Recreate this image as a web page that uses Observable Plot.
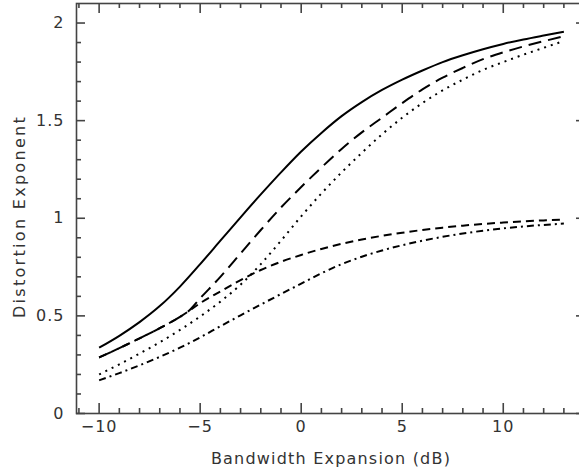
<!DOCTYPE html>
<html><head><meta charset="utf-8">
<script src="https://cdn.jsdelivr.net/npm/d3@7"></script>
<script src="https://cdn.jsdelivr.net/npm/@observablehq/plot@0.6"></script>
<style>body{margin:0;background:#fff;overflow:hidden}</style>
</head><body><div id="chart"></div>
<script>
// x positions (dB)
const xs = [-10,-9,-8,-7,-6,-5,-4,-3,-2,-1,0,1,2,3,4,5,6,7,8,9,10,11,12,13];
const xsBD = [-10,-9,-8,-7,-6,-5.6,-5,-4,-3,-2,-1,0,1,2,3,4,5,6,7,8,9,10,11,12,13];
// series values
const solidY   = [0.337,0.398,0.468,0.550,0.650,0.765,0.885,1.005,1.122,1.235,1.342,1.437,1.523,1.595,1.657,1.710,1.757,1.800,1.835,1.866,1.893,1.916,1.936,1.955];
const dottedY  = [0.200,0.252,0.307,0.365,0.428,0.497,0.573,0.660,0.765,0.885,1.010,1.127,1.235,1.335,1.430,1.515,1.590,1.655,1.710,1.760,1.800,1.838,1.873,1.908];
const dashDotY = [0.170,0.207,0.247,0.290,0.337,0.390,0.447,0.503,0.558,0.612,0.665,0.718,0.765,0.803,0.835,0.862,0.885,0.905,0.922,0.936,0.948,0.958,0.966,0.973];
const longDashY  = [0.287,0.335,0.385,0.437,0.495,0.522,0.590,0.700,0.820,0.940,1.055,1.160,1.260,1.355,1.440,1.515,1.590,1.660,1.720,1.770,1.815,1.850,1.880,1.907,1.932];
const shortDashY = [0.287,0.335,0.385,0.437,0.495,0.522,0.565,0.625,0.683,0.735,0.777,0.812,0.843,0.869,0.891,0.910,0.926,0.940,0.952,0.962,0.971,0.978,0.984,0.989,0.993];
// ticks
const xMajor = [-10,-5,0,5,10];
const xMinor = [-11,-9,-8,-7,-6,-4,-3,-2,-1,1,2,3,4,6,7,8,9,11,12,13];
const yMajor = [0,0.5,1,1.5,2];
const yMinor = [0.1,0.2,0.3,0.4,0.6,0.7,0.8,0.9,1.1,1.2,1.3,1.4,1.6,1.7,1.8,1.9];
const xLabel = "Bandwidth Expansion (dB)";
const yLabel = "Distortion Exponent";

const series = [
  {xv: xs, yv: solidY, dash: null},
  {xv: xsBD, yv: longDashY, dash: "13,7"},
  {xv: xs, yv: dottedY, dash: "2,5"},
  {xv: xsBD, yv: shortDashY, dash: "8,5"},
  {xv: xs, yv: dashDotY, dash: "7,4,2,4"}
];

const W = 579, H = 471, ML = 76, MR = -6, MT = 3, MB = 58;
const FW = W - MR - ML, FH = H - MB - MT;
const axisColor = "#444";
const fmt = d => d < 0 ? "\u2212" + Math.abs(d) : String(d);
const tk = {stroke: axisColor, strokeWidth: 1.6};

const marks = [];
for (const s of series) {
  marks.push(Plot.line(s.xv.map((x, i) => ({x, y: s.yv[i]})), {
    x: "x", y: "y", curve: "monotone-x", stroke: "black", strokeWidth: 2,
    strokeDasharray: s.dash, strokeLinecap: "butt"
  }));
}
marks.push(Plot.frame({stroke: axisColor, strokeWidth: 1.6}));
// inward ticks: bottom, top, left, right
marks.push(Plot.ruleX(xMajor, {x: d => d, insetTop: FH - 10, ...tk}));
marks.push(Plot.ruleX(xMinor, {x: d => d, insetTop: FH - 5, ...tk}));
marks.push(Plot.ruleX(xMajor, {x: d => d, insetBottom: FH - 10, ...tk}));
marks.push(Plot.ruleX(xMinor, {x: d => d, insetBottom: FH - 5, ...tk}));
marks.push(Plot.ruleY(yMajor, {y: d => d, insetRight: FW - 9, ...tk}));
marks.push(Plot.ruleY(yMinor, {y: d => d, insetRight: FW - 5, ...tk}));
marks.push(Plot.ruleY(yMajor, {y: d => d, insetLeft: FW - 9, ...tk}));
marks.push(Plot.ruleY(yMinor, {y: d => d, insetLeft: FW - 5, ...tk}));
marks.push(Plot.axisX({ticks: xMajor, tickSize: 0, tickPadding: 7, tickFormat: fmt, label: null}));
marks.push(Plot.axisY({ticks: yMajor, tickSize: 0, tickPadding: 12, tickFormat: fmt, label: null}));
marks.push(Plot.text([xLabel], {text: d => d, frameAnchor: "bottom", textAnchor: "middle", dy: 45, lineAnchor: "middle", fill: "#333"}));
marks.push(Plot.text([yLabel], {text: d => d, frameAnchor: "left", textAnchor: "middle", rotate: -90, dx: -57, dy: 8, lineAnchor: "middle", fill: "#333"}));

const chart = Plot.plot({
  width: W, height: H,
  marginLeft: ML, marginRight: MR, marginTop: MT, marginBottom: MB,
  x: {domain: [-11.12, 14.07]},
  y: {domain: [0, 2.1]},
  style: {fontFamily: "DejaVu Sans", fontSize: "16px", color: "#333", background: "#fff", letterSpacing: "1px"},
  marks
});
document.getElementById("chart").appendChild(chart);
d3.select(chart).selectAll("text").filter(function() { return this.textContent === yLabel; }).style("letter-spacing", "2.3px");
d3.select(chart).selectAll("text").filter(function() { return this.textContent === xLabel; }).style("letter-spacing", "1.2px");
</script>
</body></html>
